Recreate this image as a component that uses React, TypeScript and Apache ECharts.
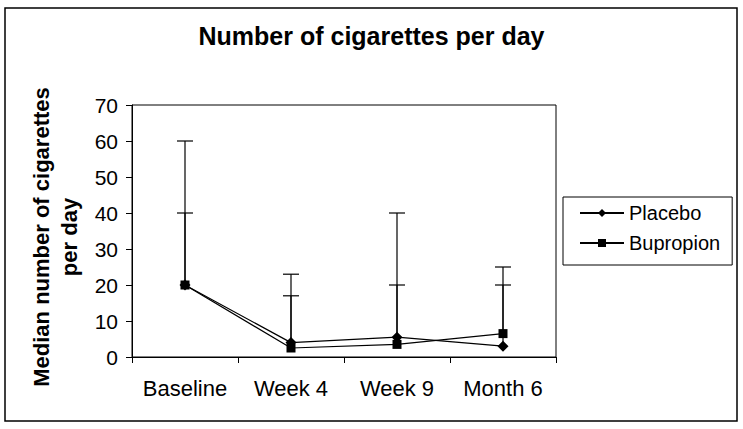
import React, { useEffect, useRef } from "react";
import * as echarts from "echarts";

const categories = ["Baseline", "Week 4", "Week 9", "Month 6"];
const placebo = [20, 4, 5.5, 3];
const bupropion = [20, 2.5, 3.5, 6.5];
const placeboUpper = [40, 17, 20, 20];
const bupropionUpper = [60, 23, 40, 25];
const yMin = 0;
const yMax = 70;
const yInterval = 10;

const FONT = "'Liberation Sans', Arial, sans-serif";

function errorBarRender(params: any, api: any) {
  const x = api.value(0);
  const lo = api.coord([x, api.value(1)]);
  const hi = api.coord([x, api.value(2)]);
  const half = 8;
  const style = { stroke: "#000", lineWidth: 1.2 };
  return {
    type: "group",
    children: [
      { type: "line", shape: { x1: lo[0], y1: lo[1], x2: hi[0], y2: hi[1] }, style },
      { type: "line", shape: { x1: hi[0] - half, y1: hi[1], x2: hi[0] + half, y2: hi[1] }, style },
    ],
  };
}

export default function App() {
  const ref = useRef<HTMLDivElement>(null);
  useEffect(() => {
    if (!ref.current) return;
    const chart = echarts.init(ref.current, null, { renderer: "svg" });
    chart.setOption({
      animation: false,
      backgroundColor: "#fff",
      title: {
        text: "Number of cigarettes per day",
        left: "center",
        top: 23,
        padding: 0,
        textStyle: { fontFamily: FONT, fontSize: 25, fontWeight: "bold", color: "#000" },
      },
      graphic: [
        {
          type: "rect",
          shape: { x: 5, y: 8, width: 732, height: 413 },
          style: { fill: "none", stroke: "#000", lineWidth: 1.5 },
          silent: true,
        },
        {
          type: "text",
          x: 55,
          y: 237,
          rotation: Math.PI / 2,
          silent: true,
          style: {
            text: "Median number of cigarettes\nper day",
            font: `bold 22px ${FONT}`,
            fill: "#000",
            lineHeight: 28,
            align: "center",
            verticalAlign: "middle",
          },
        },
      ],
      legend: {
        orient: "vertical",
        left: 563,
        top: 197,
        padding: [6, 12, 12, 16],
        itemGap: 10,
        itemWidth: 44,
        itemHeight: 10,
        borderColor: "#000",
        borderWidth: 1,
        data: ["Placebo", "Bupropion"],
        textStyle: { fontFamily: FONT, fontSize: 20, color: "#000", lineHeight: 20 },
      },
      grid: {
        left: 132,
        top: 105,
        right: 187,
        bottom: 72,
        show: true,
        borderColor: "#000",
        borderWidth: 1,
      },
      xAxis: {
        type: "category",
        data: categories,
        boundaryGap: true,
        axisLine: { lineStyle: { color: "#000", width: 1 } },
        axisTick: { show: true, length: 6, interval: 0, lineStyle: { color: "#000" } },
        axisLabel: { fontFamily: FONT, fontSize: 22, color: "#000", margin: 20, interval: 0 },
        splitLine: { show: false },
      },
      yAxis: {
        type: "value",
        min: yMin,
        max: yMax,
        interval: yInterval,
        axisLine: { show: true, lineStyle: { color: "#000", width: 1 } },
        axisTick: { show: true, length: 6, lineStyle: { color: "#000" } },
        axisLabel: { fontFamily: FONT, fontSize: 21, color: "#000", margin: 14 },
        splitLine: { show: false },
      },
      series: [
        {
          type: "custom",
          name: "err-placebo",
          renderItem: errorBarRender,
          data: categories.map((_, i) => [i, placebo[i], placeboUpper[i]]),
          z: 1,
          silent: true,
        },
        {
          type: "custom",
          name: "err-bupropion",
          renderItem: errorBarRender,
          data: categories.map((_, i) => [i, bupropion[i], bupropionUpper[i]]),
          z: 1,
          silent: true,
        },
        {
          type: "line",
          name: "Placebo",
          data: placebo,
          symbol: "diamond",
          symbolSize: 11,
          color: "#000",
          itemStyle: { color: "#000" },
          lineStyle: { color: "#000", width: 1.2 },
          z: 3,
        },
        {
          type: "line",
          name: "Bupropion",
          data: bupropion,
          symbol: "rect",
          symbolSize: 9,
          color: "#000",
          itemStyle: { color: "#000" },
          lineStyle: { color: "#000", width: 1.2 },
          z: 3,
        },
      ],
    });
    return () => chart.dispose();
  }, []);
  return (
    <div
      ref={ref}
      style={{ position: "absolute", left: 0, top: 0, width: 743, height: 429 }}
    />
  );
}
